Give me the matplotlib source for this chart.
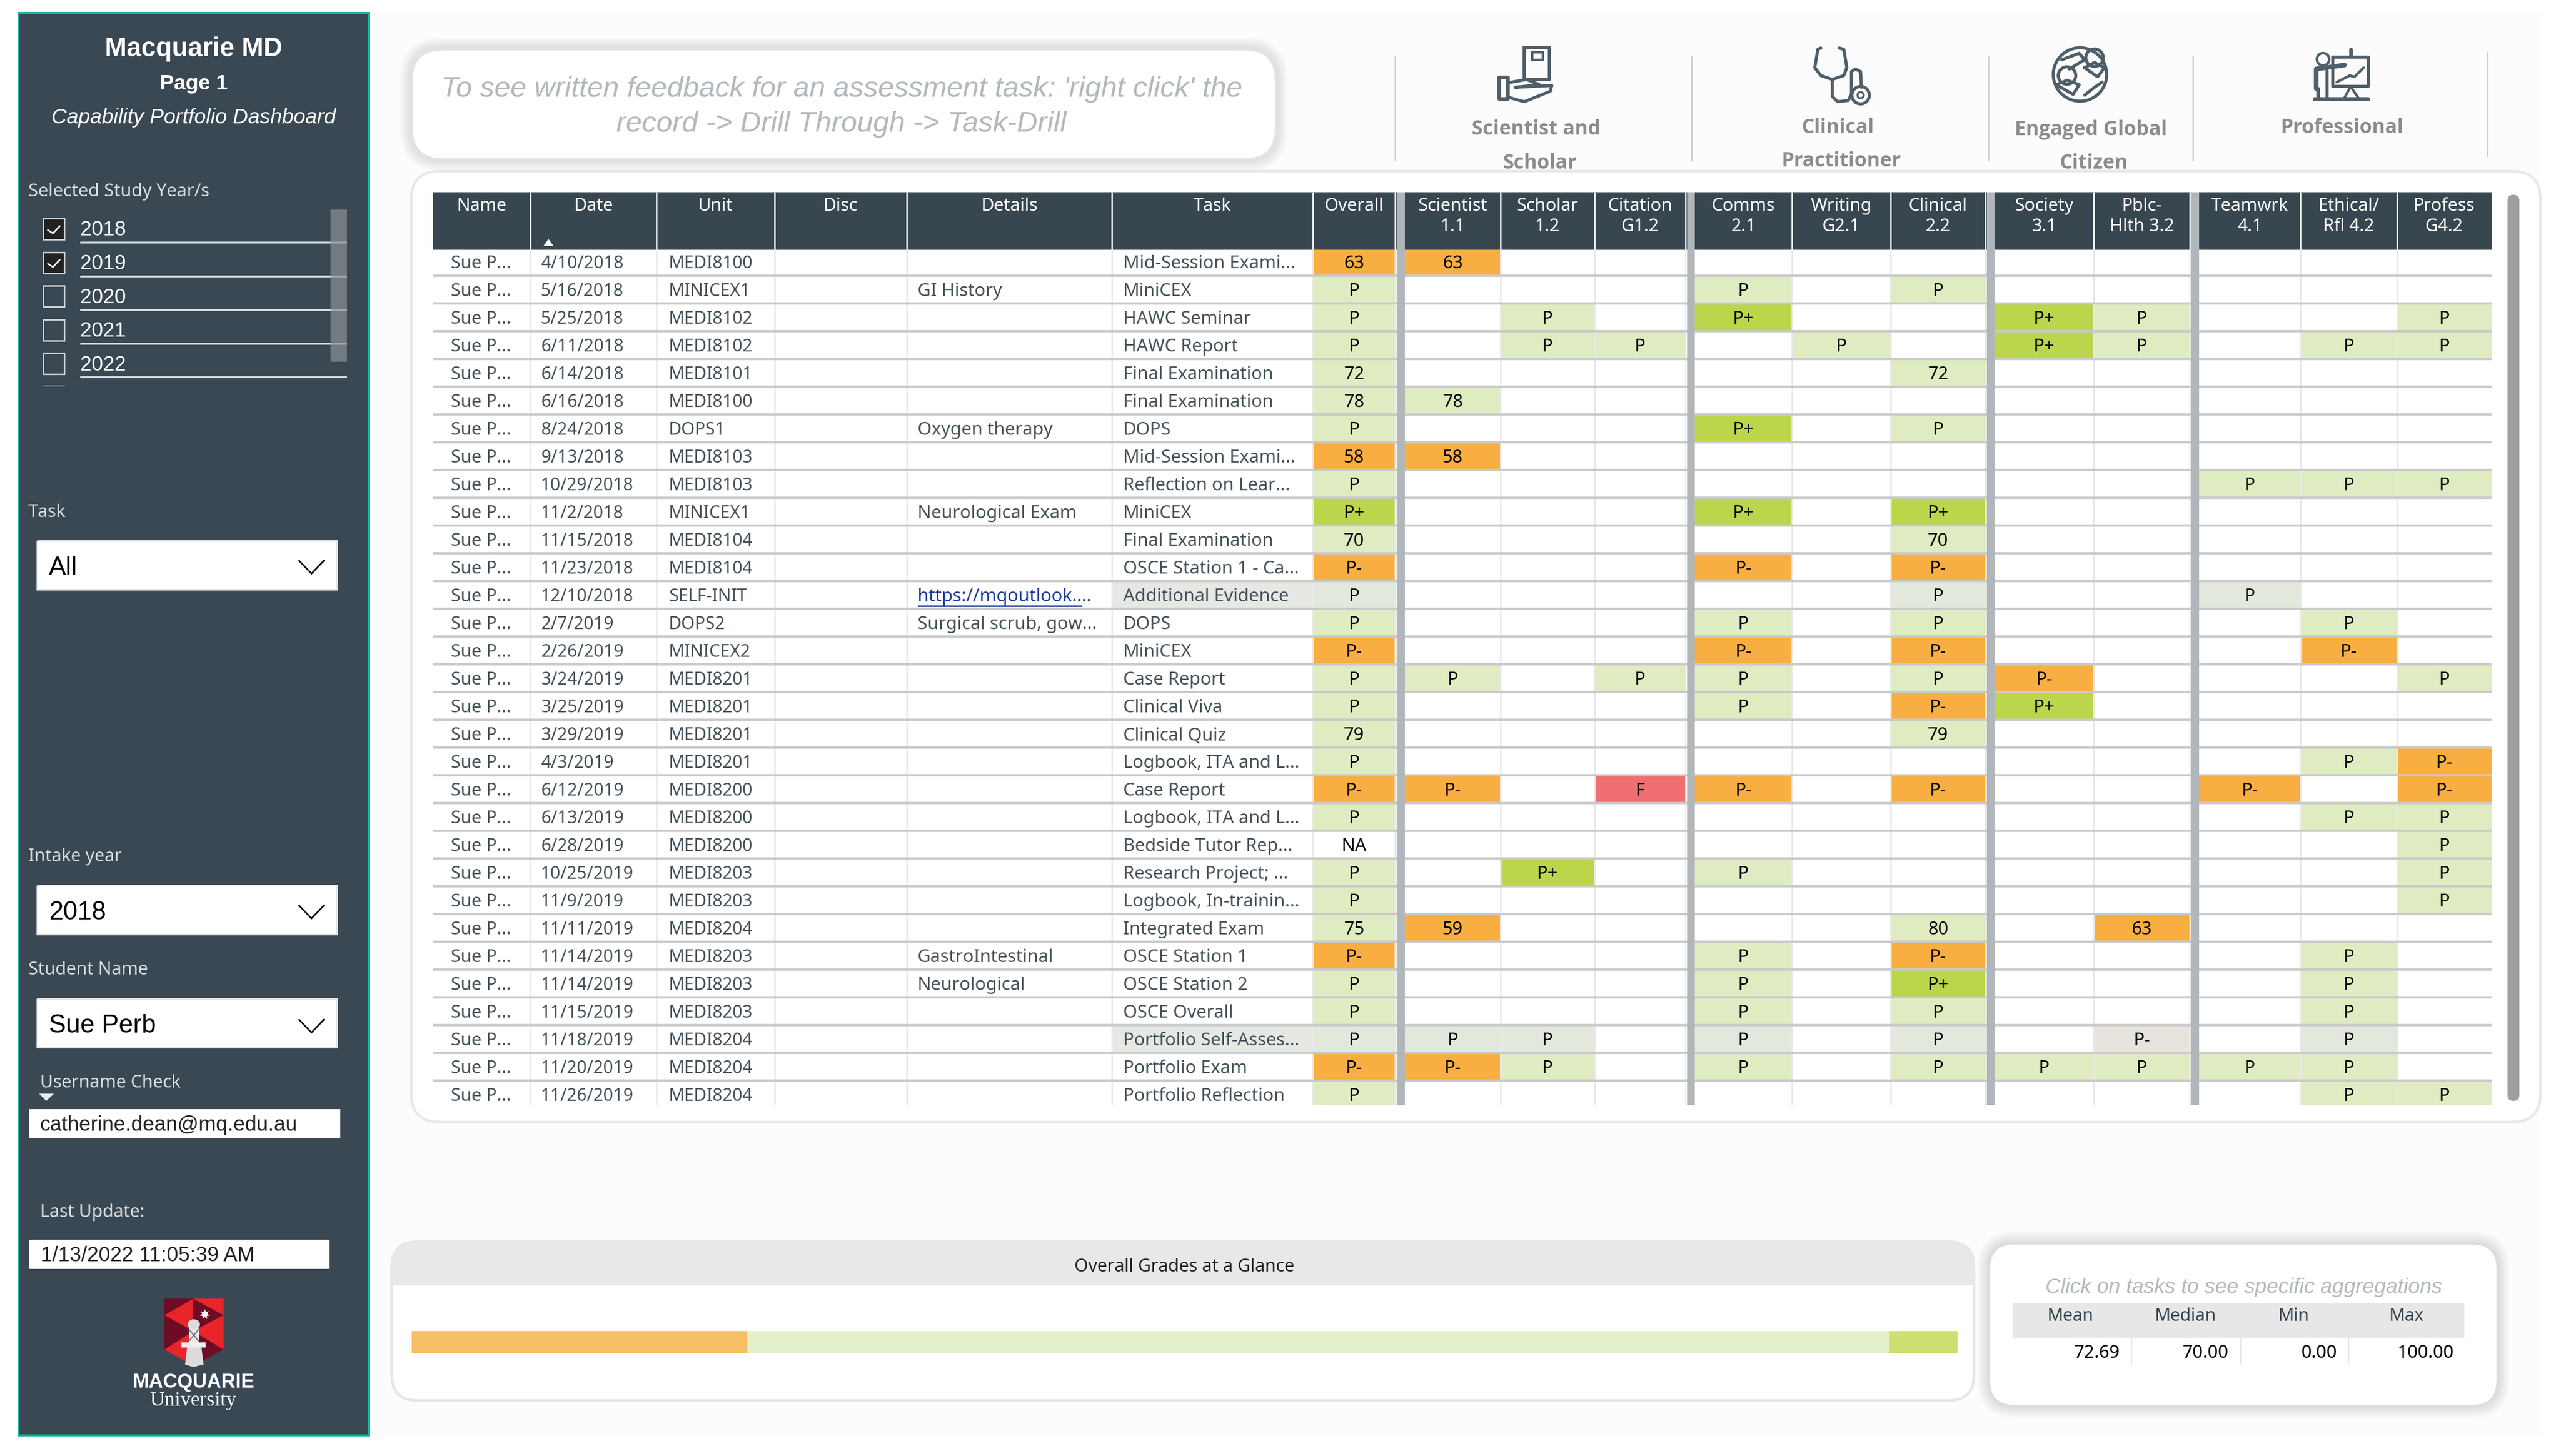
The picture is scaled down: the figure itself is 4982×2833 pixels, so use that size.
import matplotlib
matplotlib.use("Agg")
import matplotlib.pyplot as plt
from matplotlib.patches import FancyBboxPatch, Rectangle, Polygon, Ellipse, Circle

# ---------- data ----------
dates = ["4/10/2018","5/16/2018","5/25/2018","6/11/2018","6/14/2018","6/16/2018","8/24/2018","9/13/2018",
         "10/29/2018","11/2/2018","11/15/2018","11/23/2018","12/10/2018","2/7/2019","2/26/2019","3/24/2019",
         "3/25/2019","3/29/2019","4/3/2019","6/12/2019","6/13/2019","6/28/2019","10/25/2019","11/9/2019",
         "11/11/2019","11/14/2019","11/14/2019","11/15/2019","11/18/2019","11/20/2019","11/26/2019"]
units = ["MEDI8100","MINICEX1","MEDI8102","MEDI8102","MEDI8101","MEDI8100","DOPS1","MEDI8103","MEDI8103",
         "MINICEX1","MEDI8104","MEDI8104","SELF-INIT","DOPS2","MINICEX2","MEDI8201","MEDI8201","MEDI8201",
         "MEDI8201","MEDI8200","MEDI8200","MEDI8200","MEDI8203","MEDI8203","MEDI8204","MEDI8203","MEDI8203",
         "MEDI8203","MEDI8204","MEDI8204","MEDI8204"]
details = ["","GI History","","","","","Oxygen therapy","","","Neurological Exam","","",
           "https://mqoutlook....","Surgical scrub, gow...","","","","","","","","","","","",
           "GastroIntestinal","Neurological","","","",""]
tasks = ["Mid-Session Exami...","MiniCEX","HAWC Seminar","HAWC Report","Final Examination","Final Examination",
         "DOPS","Mid-Session Exami...","Reflection on Lear...","MiniCEX","Final Examination","OSCE Station 1 - Ca...",
         "Additional Evidence","DOPS","MiniCEX","Case Report","Clinical Viva","Clinical Quiz","Logbook, ITA and L...",
         "Case Report","Logbook, ITA and L...","Bedside Tutor Rep...","Research Project; ...","Logbook, In-trainin...",
         "Integrated Exam","OSCE Station 1","OSCE Station 2","OSCE Overall","Portfolio Self-Asses...","Portfolio Exam",
         "Portfolio Reflection"]
student_short = "Sue P..."

overall  = ["63","P","P","P","72","78","P","58","P","P+","70","P-","P","P","P-","P","P","79","P","P-","P","NA","P","P","75","P-","P","P","P","P-","P"]
sci_1_1  = ["63","","","","","78","","58","","","","","","","","P","","","","P-","","","","","59","","","","P","P-",""]
sch_1_2  = ["","","P","P","","","","","","","","","","","","","","","","","","","P+","","","","","","P","P",""]
cit_g12  = ["","","","P","","","","","","","","","","","","P","","","","F","","","","","","","","","","",""]
comm_2_1 = ["","P","P+","","","","P+","","","P+","","P-","","P","P-","P","P","","","P-","","","P","","","P","P","P","P","P",""]
writ_g21 = ["","","","P","","","","","","","","","","","","","","","","","","","","","","","","","","",""]
clin_2_2 = ["","P","","","72","","P","","","P+","70","P-","P","P","P-","P","P-","79","","P-","","","","","80","P-","P+","P","P","P",""]
soc_3_1  = ["","","P+","P+","","","","","","","","","","","","P-","P+","","","","","","","","","","","","","P",""]
pub_3_2  = ["","","P","P","","","","","","","","","","","","","","","","","","","","","63","","","","P-","P",""]
team_4_1 = ["","","","","","","","","P","","","","P","","","","","","","P-","","","","","","","","","","P",""]
eth_4_2  = ["","","","P","","","","","P","","","","","P","P-","","","","P","","P","","","","","P","P","P","P","P","P"]
prof_g42 = ["","","P","P","","","","","P","","","","","","","P","","","P-","P-","P","P","P","P","","","","","","","P"]
grade_columns = [overall, sci_1_1, sch_1_2, cit_g12, comm_2_1, writ_g21, clin_2_2, soc_3_1, pub_3_2, team_4_1, eth_4_2, prof_g42]
dimmed_rows = [12, 28]

head_text = ["Name","Date","Unit","Disc","Details","Task"]
head_grades = ["Overall","Scientist\n1.1","Scholar\n1.2","Citation\nG1.2","Comms\n2.1","Writing\nG2.1","Clinical\n2.2",
               "Society\n3.1","Pblc-\nHlth 3.2","Teamwrk\n4.1","Ethical/\nRfl 4.2","Profess\nG4.2"]
study_years = ["2018","2019","2020","2021","2022"]
years_checked = [True, True, False, False, False]
glance_shares = [21.7, 73.9, 4.4]
agg_names = ["Mean","Median","Min","Max"]
agg_values = ["72.69","70.00","0.00","100.00"]

# ---------- layout ----------
W, H = 4982, 2833
fig = plt.figure(figsize=(W/100, H/100), dpi=100, facecolor="white")
ax = fig.add_axes([0, 0, 1, 1])
ax.set_xlim(0, W); ax.set_ylim(H, 0); ax.axis("off")

SANS = "Liberation Sans"; UI = "Noto Sans"
DARK = "#38464f"
def pt(px): return px * 0.72

def T(x, y, s, px, ha="left", color="black", weight="normal", style="normal", family=UI, z=6, **kw):
    return ax.text(x, y + 3.5, s, fontsize=pt(px), ha=ha, va="center", color=color, fontweight=weight,
                   fontstyle=style, family=family, zorder=z, **kw)

def R(x0, y0, x1, y1, c, z=2, **kw):
    p = Rectangle((x0, y0), x1-x0, y1-y0, fc=c, ec="none", lw=0, zorder=z, **kw)
    ax.add_patch(p); return p

def L(xs, ys, c, w, z=4, **kw):
    ax.plot(xs, ys, color=c, lw=pt(w), zorder=z, solid_capstyle=kw.pop("cap", "butt"), solid_joinstyle="miter", **kw)

def RB(x0, y0, x1, y1, r, fc, ec="none", lw=0, z=1, alpha=None):
    p = FancyBboxPatch((x0, y0), x1-x0, y1-y0, boxstyle=f"round,pad=0,rounding_size={r}", fc=fc, ec=ec,
                       lw=pt(lw), zorder=z, alpha=alpha)
    ax.add_patch(p); return p

def shadow(x0, y0, x1, y1, r, spread=22, c="#8f8786", a=0.035):
    for i in range(spread, 0, -3):
        RB(x0-i, y0-i, x1+i, y1+i, r+i, c, z=0.5, alpha=a)

# page background
R(727, 23, 4942, 2796, "#fcfcfc", z=0)

# ---------- sidebar ----------
R(34, 23, 720, 2795, "#17b7a0", z=1)
R(38, 27, 716, 2791, "#394853", z=1.1)
LBL = "#d8dcdf"
T(377, 92, "Macquarie MD", 51, ha="center", color="white", weight="bold", family=SANS)
T(377, 159, "Page 1", 41, ha="center", color="white", weight="bold", family=SANS)
T(377, 226, "Capability Portfolio Dashboard", 41, ha="center", color="white", style="italic", family=SANS)
T(55, 369, "Selected Study Year/s", 35, color=LBL)
for i, (yr, chk) in enumerate(zip(study_years, years_checked)):
    yc = 445 + 65.6*i
    ax.add_patch(Rectangle((84, yc-20), 41, 41, fc="#222222" if chk else "none", ec="#c9ced1", lw=pt(3), zorder=3))
    if chk:
        L([92, 103, 117], [yc+2, yc+9, yc-6], "white", 3, z=4)
    T(156, yc-1, yr, 40, color="white", family=SANS)
    L([156, 675], [yc+27]*2, "#dfe2e4", 3.5, z=3)
L([83, 126], [751, 751], "#aab1b5", 2, z=3)
R(643, 408, 675, 704, "#8c9194", z=3.5, alpha=0.7)

def chevron(cx, y0, y1):
    L([cx-25, cx, cx+25], [y0, y1, y0], "black", 3, z=6)

def dropdown(y0, y1, s, chev_y):
    R(72, y0, 655, y1, "white", z=3)
    L([72, 655, 655, 72, 72], [y0, y0, y1, y1, y0], "#e2e4e6", 3, z=3.2)
    T(95, (y0+y1)/2+2, s, 50, color="black", family=SANS)
    chevron(606, chev_y, chev_y+26)

T(55, 993, "Task", 34.5, color=LBL)
dropdown(1052, 1147, "All", 1090)
T(55, 1663, "Intake year", 34.5, color=LBL)
dropdown(1723, 1818, "2018", 1761)
T(55, 1883, "Student Name", 34.5, color=LBL)
dropdown(1943, 2038, "Sue Perb", 1983)
T(78, 2103, "Username Check", 34.5, color=LBL)
ax.add_patch(Polygon([(76, 2128), (105, 2128), (90, 2142)], fc="#e8eaeb", ec="none", zorder=4))
R(57, 2158, 662, 2215, "white", z=3)
T(77, 2186, "catherine.dean@mq.edu.au", 40.5, color="#222222", family=SANS)
T(78, 2356, "Last Update:", 34.5, color=LBL)
R(57, 2412, 640, 2469, "white", z=3)
T(79, 2439, "1/13/2022 11:05:39 AM", 40.5, color="#222222", family=SANS)

# logo
RED, MAROON = "#e8262a", "#6e0b25"
ax.add_patch(Polygon([(320, 2527), (435, 2527), (435, 2626), (376, 2657), (320, 2626)], fc=RED, ec="none", zorder=3))
for pts in ([(320, 2527), (376, 2527), (320, 2559)], [(376, 2527), (435, 2559), (376, 2590)],
            [(320, 2559), (376, 2590), (320, 2626)], [(435, 2626), (376, 2590), (376, 2657)]):
    ax.add_patch(Polygon(pts, fc=MAROON, ec="none", zorder=3.1))
LG = "#dcdcdc"
ax.add_patch(Polygon([(364, 2622), (392, 2622), (396, 2655), (376, 2660), (360, 2655)], fc=LG, ec="none", zorder=3.2))
R(353, 2612, 400, 2622, "#eeeeee", z=3.3)
ax.add_patch(Polygon([(367, 2612), (387, 2612), (387, 2584), (367, 2584)], fc="#e9e9e9", ec="#666666", lw=pt(1), zorder=3.2))
L([367, 387], [2586, 2610], "#666666", 2, z=3.4); L([367, 387], [2610, 2586], "#666666", 2, z=3.4)
ax.add_patch(Ellipse((377, 2577), 24, 20, fc=LG, ec="none", zorder=3.2))
ax.plot([398], [2557], marker=(7, 1, 0), ms=pt(20), color="white", mec="none", zorder=3.4)
T(376, 2687, "MACQUARIE", 38.5, ha="center", color="white", weight="bold", family=SANS)
T(376, 2722, "University", 40, ha="center", color="white", family="Liberation Serif")

# ---------- note panel ----------
shadow(800, 95, 2483, 311, 62)
RB(800, 95, 2483, 311, 62, "white", ec="#e4e2e1", lw=6, z=1)
NOTE = "#b2b9bd"
T(1637, 170, "To see written feedback for an assessment task: 'right click' the", 56, ha="center", color=NOTE, style="italic", family=SANS)
T(1637, 238, "record -> Drill Through -> Task-Drill", 56, ha="center", color=NOTE, style="italic", family=SANS)

# ---------- capability headings and icons ----------
for x, y0, y1 in [(2714, 109, 313), (3291, 109, 313), (3868, 109, 313), (4266, 109, 313), (4839, 101, 305)]:
    L([x, x], [y0, y1], "#cfd0d1", 3, z=2)
HEAD = "#8a8c8d"
for x, y, s in [(2988, 248, "Scientist and"), (2995, 314, "Scholar"), (3575, 245, "Clinical"), (3582, 310, "Practitioner"),
                (4067, 249, "Engaged Global"), (4073, 314, "Citizen"), (4556, 245, "Professional")]:
    T(x, y, s, 39, ha="center", color=HEAD, weight="bold", family="Open Sans", z=2.5)

ICON = "#4f5f69"
def P(vx, vy): return 2650 + vx*1.487, 50 + vy*0.51
def poly(points, w=6, closed=False):
    pp = [P(*v) for v in points]
    if closed: pp.append(pp[0])
    ax.plot([a for a, _ in pp], [b for _, b in pp], color=ICON, lw=pt(w), zorder=3, solid_joinstyle="round", solid_capstyle="round")
def ring(vx, vy, r, w=6):
    cx, cy = P(vx, vy)
    ax.add_patch(Circle((cx, cy), r, fc="none", ec=ICON, lw=pt(w), zorder=3))

# hand + phone
poly([(212, 82), (245, 82), (245, 205), (212, 205)], closed=True)
poly([(222, 100), (236, 100), (236, 130), (222, 130)], closed=True, w=5)
poly([(179, 196), (190, 196), (190, 278), (179, 278)], closed=True, w=7)
poly([(190, 218), (215, 205), (232, 225), (200, 235), (248, 228), (246, 250), (212, 290), (190, 272)])
# stethoscope
poly([(600, 85), (596, 90), (592, 160), (600, 190), (615, 205), (630, 190), (634, 160), (630, 90), (624, 85)])
poly([(615, 205), (615, 270), (622, 290), (636, 285), (640, 260), (640, 175), (645, 165), (652, 175), (653, 235)])
ring(652, 265, 17); ring(652, 265, 6, 4)
# globe with people
ring(939, 186, 52)
ring(958, 122, 17, 6); ring(922, 190, 17, 6)
poly([(945, 160), (958, 140), (971, 160), (962, 195), (945, 160)], w=6)
poly([(908, 225), (922, 208), (938, 225), (930, 262), (908, 225)], w=6)
poly([(915, 130), (938, 105), (945, 130), (925, 165)], w=6)
poly([(945, 265), (958, 235), (968, 215)], w=6)
# presenter at board
poly([(1270, 120), (1316, 120), (1316, 232), (1270, 232)], closed=True)
poly([(1293, 118), (1293, 90)], w=7)
poly([(1275, 215), (1292, 190), (1298, 195), (1310, 160)], w=5)
ring(1257, 128, 12, 5)
poly([(1248, 240), (1248, 165), (1285, 150)], w=9)
poly([(1262, 170), (1262, 275)], w=6)
poly([(1250, 240), (1250, 275)], w=7)
poly([(1293, 232), (1285, 275)], w=5); poly([(1293, 232), (1303, 275)], w=5)
poly([(1246, 280), (1316, 280)], w=8)

# ---------- main table panel ----------
RB(800, 333, 4942, 2183, 55, "white", ec="#e8e8e8", lw=5, z=1)

text_edges = [842, 1032, 1277, 1507, 1764, 2163, 2554]
grade_spans = [(2554, 2714), (2733, 2919), (2919, 3102), (3102, 3279), (3297, 3486), (3486, 3678), (3678, 3862),
               (3880, 4073), (4073, 4260), (4278, 4475), (4475, 4663), (4663, 4847)]
bars = [(2717, 2733), (3282, 3297), (3865, 3880), (4263, 4278)]
n = len(dates)
HTOP, HBOT, TBOT = 374, 486, 2150
def line_y(k): return 482 + 54*k
def row_center(k): return 456 + 54*k

def grade_color(g, dim):
    if g in ("P-", "F") or (g.isdigit() and int(g) < 65):
        base = {"F": "#ef6f70"}.get(g, "#f9ae41")
        return "#e7e4dd" if dim else base
    if g == "P+": return "#bbd64b"
    if g == "NA": return "white"
    return "#e3e8dc" if dim else "#dfebc1"

# header
R(text_edges[0], HTOP, grade_spans[-1][1], HBOT, DARK, z=2)
for x in text_edges[1:]:
    L([x, x], [HTOP, HBOT], "#e9ecee", 3, z=3)
for s in grade_spans[:-1]:
    L([s[1], s[1]], [HTOP, HBOT], "#e9ecee", 3, z=3)
for x0, x1 in bars:
    R(x0, HTOP, x1, TBOT, "#b0b6ba", z=3.5)
for i, s in enumerate(head_text):
    T((text_edges[i]+text_edges[i+1])/2, 397, s, 34.5, ha="center", color="white")
for (x0, x1), s in zip(grade_spans, head_grades):
    cx = (x0+x1)/2
    parts = s.split("\n")
    T(cx, 397, parts[0], 34.5, ha="center", color="white")
    if len(parts) > 1:
        T(cx, 438, parts[1], 34.5, ha="center", color="white")
ax.add_patch(Polygon([(1057, 479), (1077, 479), (1067, 465)], fc="white", ec="none", zorder=6))

# body
for col, (x0, x1) in zip(grade_columns, grade_spans):
    for k, g in enumerate(col, start=1):
        if not g: continue
        top = 486 if k == 1 else line_y(k-1)
        bot = TBOT if k == n else line_y(k)
        R(x0, top, x1, bot, grade_color(g, (k-1) in dimmed_rows), z=2)
        T((x0+x1)/2, row_center(k), g, 35, ha="center", color="black")
for k in dimmed_rows:
    R(2163, line_y(k), 2554, line_y(k+1), "#e6e8e3", z=1.8)
for k in range(1, n):
    L([text_edges[0], grade_spans[-1][1]], [line_y(k)]*2, "#c9c9c9", 4.5, z=3)
for x in text_edges[1:]:
    L([x, x], [HBOT, TBOT], "#e8e8e8", 3, z=2.8)
for s in grade_spans[:-1]:
    L([s[1], s[1]], [HBOT, TBOT], "#e8e8e8", 3, z=2.8)
for k in range(1, n+1):
    y = row_center(k)
    T(877, y, student_short, 34.5, color="#46525a")
    T(1052, y, dates[k-1], 34, color="#46525a")
    T(1301, y, units[k-1], 34, color="#46525a")
    d = details[k-1]
    if d.startswith("http"):
        T(1785, y, d, 35, color="#1f3d9e")
        L([1785, 2105], [y+21, y+21], "#1f3d9e", 3, z=6)
    elif d:
        T(1785, y, d, 35, color="#46525a")
    T(2185, y, tasks[k-1], 35, color="#46525a")
# scrollbar
RB(4878, 379, 4901, 2142, 11, "#a29e9c", z=2)

# ---------- glance panel ----------
RB(762, 2416, 3840, 2725, 50, "white", ec="#e6e6e6", lw=5, z=1)
hd = RB(762, 2416, 3840, 2725, 50, "#e8e8e8", z=1.2)
hd.set_clip_path(Rectangle((700, 2400), 3300, 100, transform=ax.transData))
T(2304, 2462, "Overall Grades at a Glance", 34.5, ha="center", color="#222222")
bar_ax = fig.add_axes([801/W, 1-2633/H, 3007/W, 43/H], zorder=5)
bar_ax.axis("off"); bar_ax.set_xlim(0, sum(glance_shares)); bar_ax.set_ylim(-0.5, 0.5)
left = 0
for v, c in zip(glance_shares, ["#f8c066", "#e5f0cd", "#cbdf72"]):
    bar_ax.barh(0, v, left=left, height=1, color=c, edgecolor="none")
    left += v

# ---------- aggregation panel ----------
shadow(3869, 2419, 4859, 2736, 50)
RB(3869, 2419, 4859, 2736, 50, "white", ec="#dcdde0", lw=5, z=1)
tt = T(4365, 2502, "Click on tasks to see specific aggregations", 41, ha="center", color="#b2b9bd", style="italic", family=SANS)
tt.set_clip_path(Rectangle((3900, 2488), 950, 60, transform=ax.transData))
R(3915, 2535, 4794, 2603, "#e7e7e7", z=2)
for x in (4146, 4358, 4568):
    L([x, x], [2603, 2655], "#e8e8e8", 3, z=3)
for x, s in zip((4028, 4252, 4462, 4682), agg_names):
    T(x, 2558, s, 34, ha="center", color=DARK)
for x, s in zip((4124, 4335, 4546, 4774), agg_values):
    T(x, 2630, s, 35, ha="right", color="black")

fig.savefig("out.png", dpi=100, facecolor="white")
